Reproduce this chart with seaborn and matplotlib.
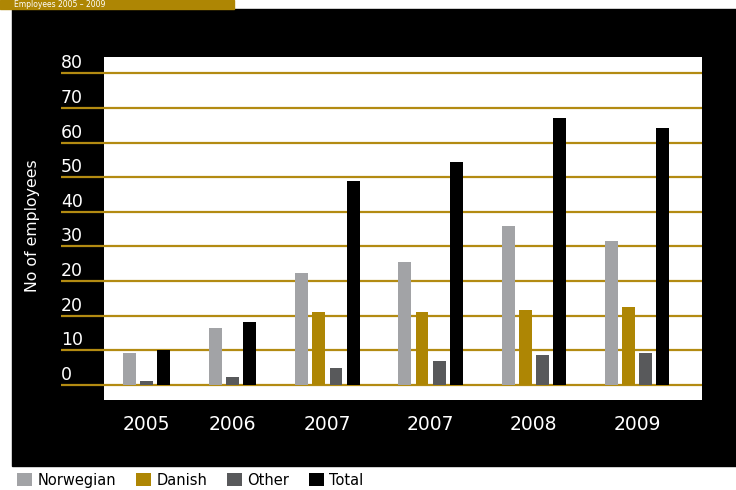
import matplotlib
matplotlib.use("Agg")
import matplotlib.pyplot as plt
import matplotlib.patches as mpatches
import seaborn as sns
import pandas as pd
import numpy as np

# ---- data (values in plotted grid units) ----
years = ["2005", "2006", "2007", "2007", "2008", "2009"]
series = ["Norwegian", "Danish", "Other", "Total"]
norwegian = [9.2, 16.4, 32.3, 35.5, 45.9, 41.5]
danish = [None, None, 21.1, 21.1, 21.6, 22.5]
other = [1.1, 2.3, 4.9, 6.9, 8.7, 9.2]
total = [10.1, 18.2, 58.8, 64.5, 77.0, 74.1]
ytick_labels = ["0", "10", "20", "20", "30", "40", "50", "60", "70", "80"]
title_text = "Employees 2005 – 2009"

colors = {"Norwegian": "#a2a3a6", "Danish": "#ae8604", "Other": "#58595b", "Total": "#000000"}
gold = "#b38b12"

# ---- build long table; bars of a group are packed, 2 empty slots between groups ----
values = {"Norwegian": norwegian, "Danish": danish, "Other": other, "Total": total}
rows = []
centers = []
slot = 0
for gi, yr in enumerate(years):
    start = slot
    for s in series:
        v = values[s][gi]
        if v is None:
            continue
        rows.append({"slot": slot, "value": v, "series": s, "year": yr})
        slot += 1
    centers.append((start + slot - 1) / 2)
    slot += 2
df = pd.DataFrame(rows)

sns.set_theme(style="white")
plt.rcParams["font.family"] = ["DejaVu Sans"]

W, H = 736, 490
fig = plt.figure(figsize=(W / 100, H / 100), dpi=100, facecolor="white")

# black panel and gold tab (behind the axes)
fig.add_artist(mpatches.Rectangle((12 / W, 1 - 466 / H), 1 - 12 / W, (466 - 9) / H,
                                  transform=fig.transFigure, color="black", zorder=-10))
fig.add_artist(mpatches.Rectangle((0, 1 - 9 / H), 234 / W, 9 / H,
                                  transform=fig.transFigure, color="#ae8604", zorder=-10))
fig.text(14 / W, 1 - 4.5 / H, title_text, color="white", fontsize=5.5, ha="left", va="center")

ax = fig.add_axes([104 / W, 1 - 400 / H, (702 - 104) / W, (400 - 57) / H])
ax.set_facecolor("white")

sns.barplot(data=df, x="slot", y="value", hue="series", hue_order=series,
            palette=colors, native_scale=True, dodge=False, width=0.75,
            saturation=1, ax=ax, zorder=3, legend=True, linewidth=0, edgecolor="none")

ax.set_xlim(-1.48, 33.27)
ax.set_ylim(-4.33, 94.7)
for sp in ax.spines.values():
    sp.set_visible(False)

# gridlines extending into the black panel
yt = np.arange(0, 100, 10)
ax.hlines(yt, xmin=(61 - 104) / 598, xmax=1.0, transform=ax.get_yaxis_transform(),
          color=gold, lw=1.6, clip_on=False, zorder=2)
ax.set_yticks([])
for y, lab in zip(yt, ytick_labels):
    ax.text((61 - 104) / 598, y + 1.45, lab, transform=ax.get_yaxis_transform(),
            color="white", fontsize=12.5, ha="left", va="baseline")

ax.set_xticks(centers)
ax.set_xticklabels(years, color="white", fontsize=13.5)
ax.tick_params(axis="x", length=0, pad=11)
ax.set_xlabel("")
ax.set_ylabel("")
fig.text(33 / W, 1 - 226 / H, "No of employees", rotation=90, color="white",
         fontsize=11.3, ha="center", va="center")

handles, labels = ax.get_legend_handles_labels()
ax.get_legend().remove()
fig.legend(handles, labels, loc="lower left", bbox_to_anchor=(10 / W, -5 / H), ncol=4,
           frameon=False, fontsize=10.5, handlelength=1.0, handleheight=1.0,
           handletextpad=0.4, columnspacing=1.35, borderpad=0, labelcolor="black")

fig.savefig("out.png", dpi=100, facecolor="white")
